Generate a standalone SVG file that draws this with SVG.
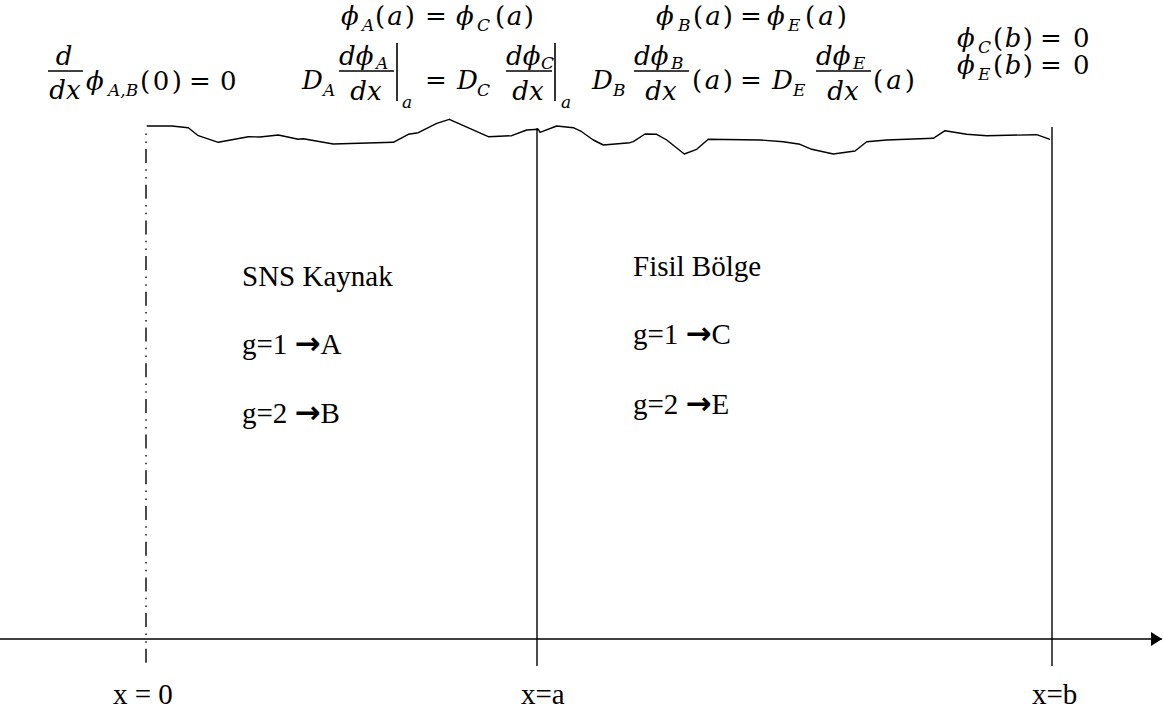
<svg xmlns="http://www.w3.org/2000/svg" width="1163" height="719" viewBox="0 0 1163 719">
<style>
.i{font-family:"DejaVu Serif",serif;font-style:italic;font-size:26px;fill:#000}
.u{font-family:"DejaVu Serif",serif;font-size:26px;fill:#000}
.s{font-family:"DejaVu Serif",serif;font-style:italic;font-size:17px;fill:#000}
.bar{stroke:#000;stroke-width:1.6;fill:none}
.lbl{font-family:"Liberation Serif","Times New Roman",serif;font-size:29px;fill:#000}
.arr{font-family:"DejaVu Sans",sans-serif;font-weight:bold;font-size:31px}
.ln{stroke:#000;stroke-width:1.4;fill:none}
</style>
<defs>
<marker id="ah" markerWidth="12" markerHeight="14" refX="11" refY="7" orient="auto" markerUnits="userSpaceOnUse">
<path d="M0,0 L11,7 L0,14 Z" fill="#000"/>
</marker>
</defs>

<g id="boundary-conditions">
<g id="eq-x0">
<text class="i" x="64" y="65" text-anchor="middle">d</text>
<line class="bar" x1="48" y1="71" x2="83" y2="71"/>
<text class="i" x="65" y="99" text-anchor="middle">dx</text>
<text class="i" x="86" y="90">ϕ</text>
<text class="s" x="108" y="96">A,B</text>
<text class="u" x="140" y="90" textLength="42" lengthAdjust="spacing">(0)</text>
<text class="u" x="189" y="90">=</text>
<text class="u" x="220" y="90">0</text>
</g>
<g id="eq-xa-1">
<text class="i" x="341" y="25">ϕ</text>
<text class="s" x="362" y="31">A</text>
<text class="u" x="375" y="25" textLength="40" lengthAdjust="spacing">(<tspan class="i">a</tspan>)</text>
<text class="u" x="425" y="25">=</text>
<text class="i" x="456" y="25">ϕ</text>
<text class="s" x="477" y="31">C</text>
<text class="u" x="495" y="25" textLength="39" lengthAdjust="spacing">(<tspan class="i">a</tspan>)</text>

<text class="i" x="302" y="89">D</text>
<text class="s" x="323" y="96">A</text>
<text class="i" x="339" y="65">dϕ</text>
<text class="s" x="376" y="69">A</text>
<line class="bar" x1="339" y1="71" x2="394" y2="71"/>
<text class="i" x="366" y="100" text-anchor="middle">dx</text>
<line class="bar" x1="397" y1="43" x2="397" y2="101"/>
<text class="s" x="402" y="108">a</text>
<text class="u" x="425" y="89">=</text>
<text class="i" x="457" y="89">D</text>
<text class="s" x="477" y="96">C</text>
<text class="i" x="506" y="65">dϕ</text>
<text class="s" x="541" y="69">C</text>
<line class="bar" x1="506" y1="71" x2="552" y2="71"/>
<text class="i" x="528" y="100" text-anchor="middle">dx</text>
<line class="bar" x1="555" y1="43" x2="555" y2="101"/>
<text class="s" x="561" y="108">a</text>
</g>
<g id="eq-xa-2">
<text class="i" x="656" y="25">ϕ</text>
<text class="s" x="678" y="31">B</text>
<text class="u" x="693" y="25" textLength="40" lengthAdjust="spacing">(<tspan class="i">a</tspan>)</text>
<text class="u" x="740" y="25">=</text>
<text class="i" x="767" y="25">ϕ</text>
<text class="s" x="788" y="31">E</text>
<text class="u" x="805" y="25" textLength="42" lengthAdjust="spacing">(<tspan class="i">a</tspan>)</text>

<text class="i" x="592" y="89">D</text>
<text class="s" x="613" y="96">B</text>
<text class="i" x="634" y="65">dϕ</text>
<text class="s" x="671" y="69">B</text>
<line class="bar" x1="634" y1="71" x2="689" y2="71"/>
<text class="i" x="661" y="100" text-anchor="middle">dx</text>
<text class="u" x="692" y="89" textLength="41" lengthAdjust="spacing">(<tspan class="i">a</tspan>)</text>
<text class="u" x="740" y="89">=</text>
<text class="i" x="772" y="89">D</text>
<text class="s" x="793" y="96">E</text>
<text class="i" x="816" y="65">dϕ</text>
<text class="s" x="853" y="69">E</text>
<line class="bar" x1="816" y1="71" x2="871" y2="71"/>
<text class="i" x="843" y="100" text-anchor="middle">dx</text>
<text class="u" x="873" y="89" textLength="42" lengthAdjust="spacing">(<tspan class="i">a</tspan>)</text>
</g>
<g id="eq-xb">
<text class="i" x="957" y="47">ϕ</text>
<text class="s" x="978" y="53">C</text>
<text class="u" x="993" y="47" textLength="40" lengthAdjust="spacing">(<tspan class="i">b</tspan>)</text>
<text class="u" x="1040" y="47">=</text>
<text class="u" x="1073" y="47">0</text>
<text class="i" x="957" y="74">ϕ</text>
<text class="s" x="978" y="80">E</text>
<text class="u" x="993" y="74" textLength="40" lengthAdjust="spacing">(<tspan class="i">b</tspan>)</text>
<text class="u" x="1040" y="74">=</text>
<text class="u" x="1073" y="74">0</text>
</g>
</g>

<g id="connectors">
<polyline id="top-surface" class="ln" stroke-width="1.5" stroke-linejoin="round" points="146.7,126 171.7,126 188.3,127.7 198.3,135.7 218.3,142.3 248.3,136.7 260,137 278.3,135 298.3,139.3 303.3,138.7 333.3,144 393.3,142.3 408.3,134.3 418.3,132.7 436.7,123.3 449.3,119.3 488.3,136.7 511.7,135.7 526.7,130 538.3,129.3 540,132.3 556.7,126 573.3,127.7 581.7,131.7 593.3,140 603.3,145 630,142.7 633.3,141.7 645,134 656.7,134.3 666.7,140 684.3,154 696.7,149.3 708.3,139.3 760,140 783.3,141.7 800,144.3 811.7,149.3 833.3,154 855,151 866.7,141.7 886.7,140 933.3,138.3 945,130.7 966.7,134.3 986.7,135.7 1036.7,134.7 1050,139.3"/>
<line id="line-x0" class="ln" x1="146" y1="128" x2="146" y2="663" stroke-dasharray="14 6.3 1.5 6.3 1.5 6.1" stroke-dashoffset="14.7"/>
<line id="line-xa" class="ln" x1="537" y1="128" x2="537" y2="666"/>
<line id="line-xb" class="ln" x1="1052" y1="127" x2="1052" y2="666"/>
<line id="x-axis" class="ln" stroke-width="1.6" x1="0" y1="639" x2="1162" y2="639" marker-end="url(#ah)"/>
</g>

<g id="region-source">
<text class="lbl" x="242" y="286">SNS Kaynak</text>
<text class="lbl" x="242" y="354">g=1 <tspan class="arr">→</tspan>A</text>
<text class="lbl" x="242" y="423">g=2 <tspan class="arr">→</tspan>B</text>
</g>
<g id="region-fissile">
<text class="lbl" x="633" y="276">Fisil Bölge</text>
<text class="lbl" x="633" y="344">g=1 <tspan class="arr">→</tspan>C</text>
<text class="lbl" x="633" y="414">g=2 <tspan class="arr">→</tspan>E</text>
</g>

<g id="axis-labels">
<text class="lbl" x="113" y="704">x = 0</text>
<text class="lbl" x="521" y="704">x=a</text>
<text class="lbl" x="1032" y="704">x=b</text>
</g>
</svg>
